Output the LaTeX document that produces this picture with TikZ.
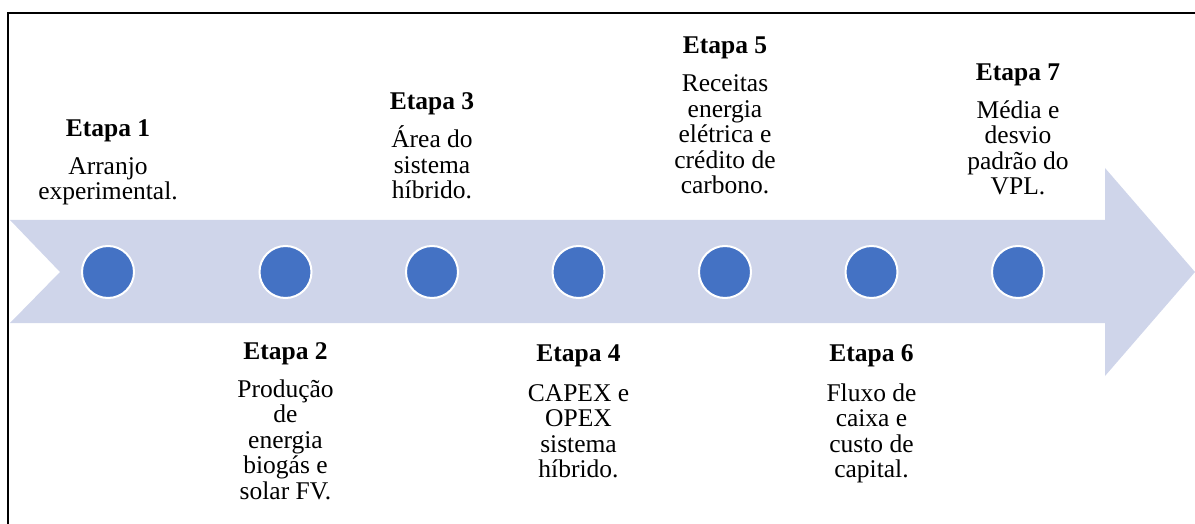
\documentclass[tikz,border=0pt]{standalone}
\usepackage{fontspec}
\setmainfont{Liberation Serif}
\definecolor{bandfill}{HTML}{CFD5EA}
\definecolor{dotblue}{HTML}{4472C4}
\newcommand\stagefont{\fontsize{25.5}{25.5}\selectfont\lineskiplimit-50pt\relax}
\begin{document}
\begin{tikzpicture}[x=1pt,y=-1pt,
  stage/.style={align=center, inner sep=0pt, text depth=0pt, font=\stagefont},
  topstage/.style={stage, anchor=south},
  botstage/.style={stage, anchor=south},
  dot/.style={circle, fill=dotblue, draw=white, line width=2pt, minimum size=52pt, inner sep=0pt},
  frame/.style={line width=2pt, black}]
\useasboundingbox (0,0) rectangle (1195,524);
% frame (left and top)
\draw[frame] (8,524) -- (8,13) -- (1195,13);
% band arrow
\fill[bandfill] (10,220) -- (1105,220) -- (1105,168) -- (1195,272) -- (1105,376)
  -- (1105,323) -- (10,323) -- (60,272) -- cycle;
% dots
\node[dot] (c1) at (108,272) {};
\node[dot] (c2) at (285.5,272) {};
\node[dot] (c3) at (432,272) {};
\node[dot] (c4) at (578.5,272) {};
\node[dot] (c5) at (725,272) {};
\node[dot] (c6) at (871.5,272) {};
\node[dot] (c7) at (1018,272) {};
% top labels
\node[topstage] (s1) at (108,200) {\textbf{Etapa 1}\\[12.5pt]Arranjo\\experimental.};
\node[topstage] (s3) at (432,199) {\textbf{Etapa 3}\\[12.5pt]Área do\\sistema\\híbrido.};
\node[topstage] (s5) at (725,194) {\textbf{Etapa 5}\\[12.5pt]Receitas\\energia\\elétrica e\\crédito de\\carbono.};
\node[topstage] (s7) at (1018,195) {\textbf{Etapa 7}\\[12.5pt]Média e\\desvio\\padrão do\\VPL.};
% bottom labels
\node[botstage] (s2) at (285.5,499.5) {\textbf{Etapa 2}\\[12.5pt]Produção\\de\\energia\\biogás e\\solar FV.};
\node[botstage] (s4) at (578.5,478) {\textbf{Etapa 4}\\[14pt]CAPEX e\\OPEX\\sistema\\híbrido.};
\node[botstage] (s6) at (871.5,478) {\textbf{Etapa 6}\\[14pt]Fluxo de\\caixa e\\custo de\\capital.};
\end{tikzpicture}
\end{document}
